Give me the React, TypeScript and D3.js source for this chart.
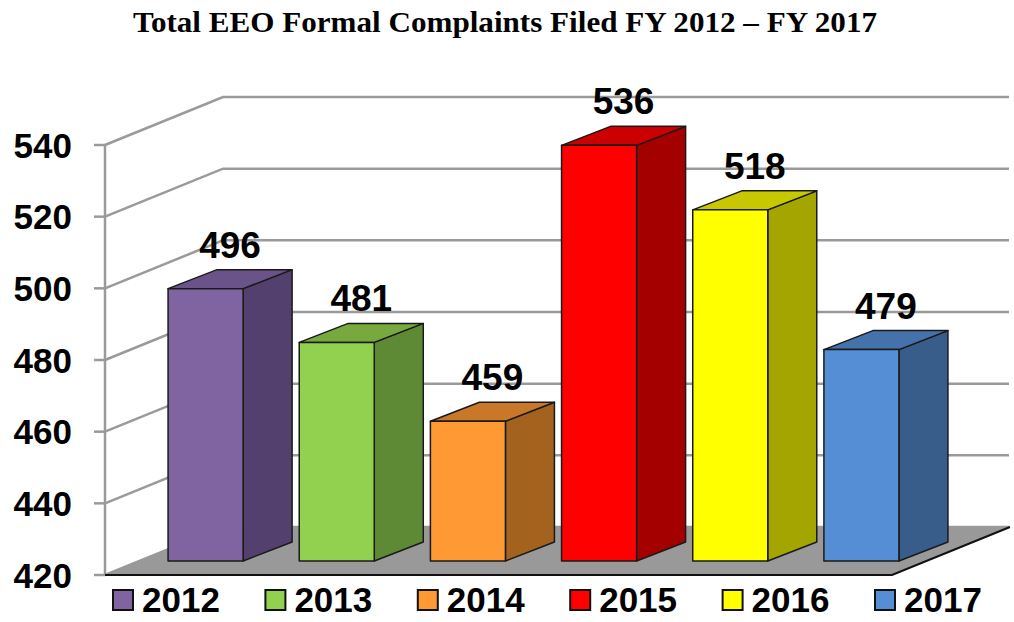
import React from "react";
import * as d3 from "d3";

const years = ["2012", "2013", "2014", "2015", "2016", "2017"];
const complaints = [496, 481, 459, 536, 518, 479];
const yTicks = [420, 440, 460, 480, 500, 520, 540];
const frontColors = ["#8064A2", "#92D050", "#FF9933", "#FF0000", "#FFFF00", "#558ED5"];
const topColors = ["#6A5389", "#77A93F", "#C87828", "#CC0000", "#C8C800", "#4672AC"];
const sideColors = ["#54406E", "#5E8A36", "#A3621E", "#A50000", "#A5A500", "#385D8A"];
const title = "Total EEO Formal Complaints Filed FY 2012 \u2013 FY 2017";

const W = 1014;
const H = 622;
const axisX = 105;
const floorRight = 892;
const depthX = 118;
const depthY = -48;
const barFrontDX = 35;
const barFrontDY = -14;
const barSideDX = 49;
const barSideDY = -19;

export default function App() {
  const y = d3.scaleLinear().domain([420, 540]).range([575, 145]);
  const x = d3
    .scaleBand<string>()
    .domain(years)
    .range([axisX, floorRight])
    .paddingInner(0.428)
    .paddingOuter(0.214);
  const bw = x.bandwidth();
  const y0 = y(420);
  const gridRight = 1009;

  return (
    <svg width={W} height={H} style={{ position: "absolute", left: 0, top: 0, background: "#fff" }}>
      <text
        x={W / 2 - 2}
        y={32}
        textAnchor="middle"
        fontFamily="'Liberation Serif', 'Times New Roman', serif"
        fontWeight="bold"
        fontSize={29}
        textLength={744}
        lengthAdjust="spacingAndGlyphs"
      >
        {title}
      </text>

      {yTicks.map((t) => (
        <polyline
          key={"g" + t}
          points={`${axisX},${y(t)} ${axisX + depthX},${y(t) + depthY} ${gridRight},${y(t) + depthY}`}
          fill="none"
          stroke="#9a9a9a"
          strokeWidth={2.5}
        />
      ))}
      <line x1={axisX} x2={axisX} y1={y(540)} y2={y0} stroke="#9a9a9a" strokeWidth={2.5} />
      {yTicks.map((t) => (
        <line key={"t" + t} x1={axisX - 11} x2={axisX} y1={y(t)} y2={y(t)} stroke="#9a9a9a" strokeWidth={2.5} />
      ))}
      {yTicks.map((t) => (
        <text
          key={"l" + t}
          x={72}
          y={y(t) + 12.5}
          textAnchor="end"
          fontFamily="'Liberation Sans', Arial, sans-serif"
          fontWeight="bold"
          fontSize={35}
        >
          {t}
        </text>
      ))}

      <polygon
        points={`${axisX},${y0} ${floorRight},${y0} ${floorRight + depthX},${y0 + depthY} ${axisX + depthX},${y0 + depthY}`}
        fill="#999999"
      />
      <polyline
        points={`${axisX},${y0} ${floorRight},${y0} ${floorRight + depthX},${y0 + depthY}`}
        fill="none"
        stroke="#111"
        strokeWidth={2}
      />

      {years.map((yr, i) => {
        const v = complaints[i];
        const fx = (x(yr) as number) + barFrontDX;
        const fyTop = y(v) + barFrontDY;
        const fyBot = y0 + barFrontDY;
        const rx = fx + bw;
        const front = `${fx},${fyTop} ${rx},${fyTop} ${rx},${fyBot} ${fx},${fyBot}`;
        const side = `${rx},${fyTop} ${rx + barSideDX},${fyTop + barSideDY} ${rx + barSideDX},${fyBot + barSideDY} ${rx},${fyBot}`;
        const top = `${fx},${fyTop} ${fx + barSideDX},${fyTop + barSideDY} ${rx + barSideDX},${fyTop + barSideDY} ${rx},${fyTop}`;
        return (
          <g key={yr}>
            <polygon points={side} fill={sideColors[i]} stroke="#1a1a1a" strokeWidth={1.5} strokeLinejoin="round" />
            <polygon points={top} fill={topColors[i]} stroke="#1a1a1a" strokeWidth={1.5} strokeLinejoin="round" />
            <polygon points={front} fill={frontColors[i]} stroke="#1a1a1a" strokeWidth={1.5} strokeLinejoin="round" />
            <text
              x={fx + bw / 2 + barSideDX / 2}
              y={fyTop + barSideDY - 12}
              textAnchor="middle"
              fontFamily="'Liberation Sans', Arial, sans-serif"
              fontWeight="bold"
              fontSize={37}
            >
              {v}
            </text>
          </g>
        );
      })}

      {years.map((yr, i) => {
        const lx = 113 + i * 152.4;
        return (
          <g key={"leg" + yr}>
            <rect x={lx} y={590} width={20} height={20} fill={frontColors[i]} stroke="#111" strokeWidth={2} />
            <text
              x={lx + 29}
              y={612}
              fontFamily="'Liberation Sans', Arial, sans-serif"
              fontWeight="bold"
              fontSize={35}
            >
              {yr}
            </text>
          </g>
        );
      })}
    </svg>
  );
}
